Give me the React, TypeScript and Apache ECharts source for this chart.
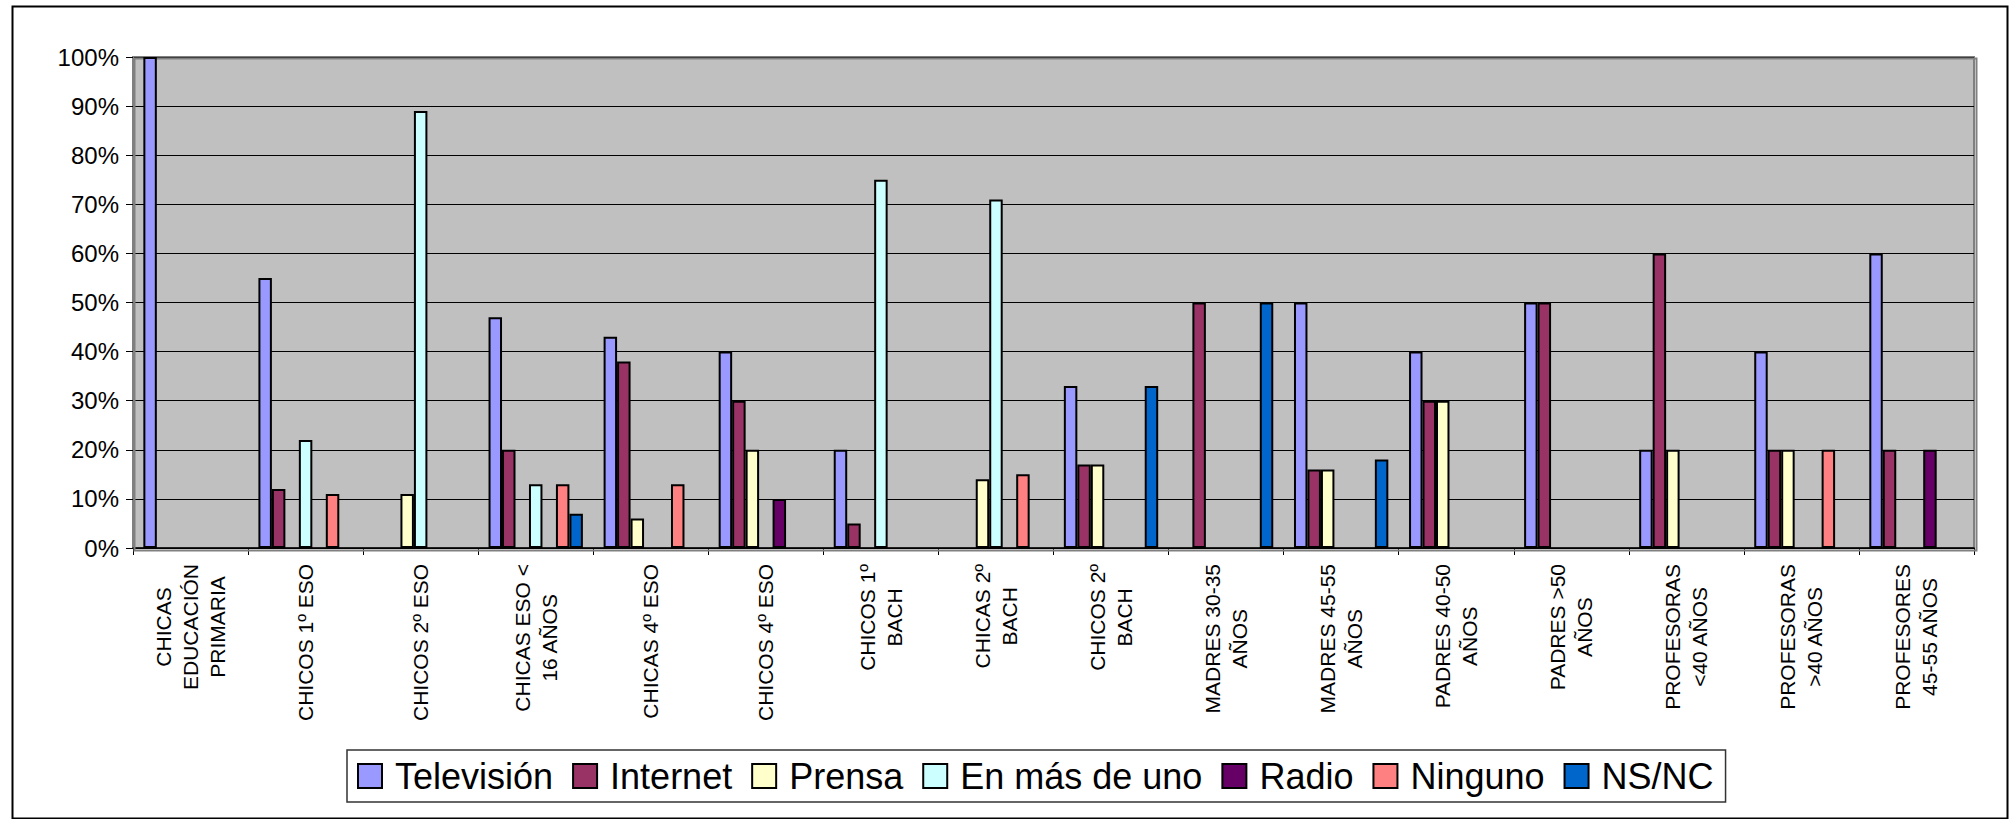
import React, { useEffect, useRef } from "react";
import * as echarts from "echarts";

const categories = [
  "CHICAS\nEDUCACIÓN\nPRIMARIA",
  "CHICOS 1º ESO",
  "CHICOS 2º ESO",
  "CHICAS ESO <\n16 AÑOS",
  "CHICAS 4º ESO",
  "CHICOS 4º ESO",
  "CHICOS 1º\nBACH",
  "CHICAS 2º\nBACH",
  "CHICOS 2º\nBACH",
  "MADRES 30-35\nAÑOS",
  "MADRES 45-55\nAÑOS",
  "PADRES 40-50\nAÑOS",
  "PADRES >50\nAÑOS",
  "PROFESORAS\n<40 AÑOS",
  "PROFESORAS\n>40 AÑOS",
  "PROFESORES\n45-55 AÑOS",
];

const seriesNames = ["Televisión", "Internet", "Prensa", "En más de uno", "Radio", "Ninguno", "NS/NC"];
const seriesColors = ["#9999FF", "#993366", "#FFFFCC", "#CCFFFF", "#660066", "#FF8080", "#0066CC"];

const television = [100, 55, 0, 47, 43, 40, 20, 0, 33, 0, 50, 40, 50, 20, 40, 60];
const internet = [0, 12, 0, 20, 38, 30, 5, 0, 17, 50, 16, 30, 50, 60, 20, 20];
const prensa = [0, 0, 11, 0, 6, 20, 0, 14, 17, 0, 16, 30, 0, 20, 20, 0];
const enMasDeUno = [0, 22, 89, 13, 0, 0, 75, 71, 0, 0, 0, 0, 0, 0, 0, 0];
const radio = [0, 0, 0, 0, 0, 10, 0, 0, 0, 0, 0, 0, 0, 0, 0, 20];
const ninguno = [0, 11, 0, 13, 13, 0, 0, 15, 0, 0, 0, 0, 0, 0, 20, 0];
const nsnc = [0, 0, 0, 7, 0, 0, 0, 0, 33, 50, 18, 0, 0, 0, 0, 0];

const seriesValues = [television, internet, prensa, enMasDeUno, radio, ninguno, nsnc];

const FONT = "'Liberation Sans', Arial, Helvetica, sans-serif";

export default function App() {
  const ref = useRef<HTMLDivElement>(null);

  useEffect(() => {
    if (!ref.current) return;
    const chart = echarts.init(ref.current, undefined, { renderer: "svg" });
    const option = {
      animation: false,
      backgroundColor: "#FFFFFF",
      textStyle: { fontFamily: FONT },
      graphic: [
        {
          type: "rect",
          left: 10,
          top: 4,
          shape: { width: 1995, height: 812 },
          style: { fill: "none", stroke: "#000000", lineWidth: 2 },
          silent: true,
        },
        {
          type: "rect",
          left: 132,
          top: 56,
          z: 1,
          shape: { width: 1842, height: 492 },
          style: { fill: "none", stroke: "#808080", lineWidth: 2 },
          silent: true,
        },
      ],
      grid: {
        left: 133,
        top: 57,
        right: 37,
        bottom: 271,
        show: true,
        backgroundColor: "#C0C0C0",
        borderColor: "#808080",
        borderWidth: 2,
      },
      legend: {
        left: 347,
        top: 750,
        orient: "horizontal",
        itemWidth: 24,
        itemHeight: 24,
        itemGap: 19,
        padding: [8, 12, 8, 10],
        borderColor: "#333333",
        borderWidth: 1.5,
        icon: "rect",
        textStyle: { fontSize: 36, color: "#000000", fontFamily: FONT, padding: [0, 0, 0, 8] },
        data: seriesNames,
      },
      xAxis: {
        type: "category",
        data: categories,
        axisLine: { show: true, lineStyle: { color: "#000000", width: 1.5 } },
        axisTick: { show: true, length: 7, lineStyle: { color: "#000000", width: 1 } },
        axisLabel: {
          interval: 0,
          rotate: 90,
          margin: 16,
          color: "#000000",
          fontSize: 21,
          lineHeight: 27,
          fontFamily: FONT,
          formatter: (v: string) =>
            v
              .split("\n")
              .map((l) => `{c|${l}}`)
              .join("\n"),
          rich: {
            c: { align: "center", fontSize: 21, lineHeight: 27, fontFamily: FONT, color: "#000000" },
          },
        },
      },
      yAxis: {
        type: "value",
        min: 0,
        max: 100,
        interval: 10,
        axisLine: { show: true, lineStyle: { color: "#808080", width: 2 } },
        axisTick: { show: true, length: 7, lineStyle: { color: "#000000", width: 1 } },
        axisLabel: {
          formatter: "{value}%",
          fontSize: 24,
          color: "#000000",
          margin: 14,
          fontFamily: FONT,
        },
        splitLine: { show: true, lineStyle: { color: "#000000", width: 1 } },
      },
      series: seriesNames.map((name, i) => ({
        name,
        type: "bar",
        barGap: "0%",
        barCategoryGap: "18%",
        data: seriesValues[i].map((v) => (v === 0 ? "-" : v)),
        itemStyle: { color: seriesColors[i], borderColor: "#000000", borderWidth: 2 },
      })),
    };
    chart.setOption(option as any);
    return () => chart.dispose();
  }, []);

  return (
    <div
      ref={ref}
      style={{ position: "absolute", left: 0, top: 0, width: 2011, height: 819 }}
    />
  );
}
